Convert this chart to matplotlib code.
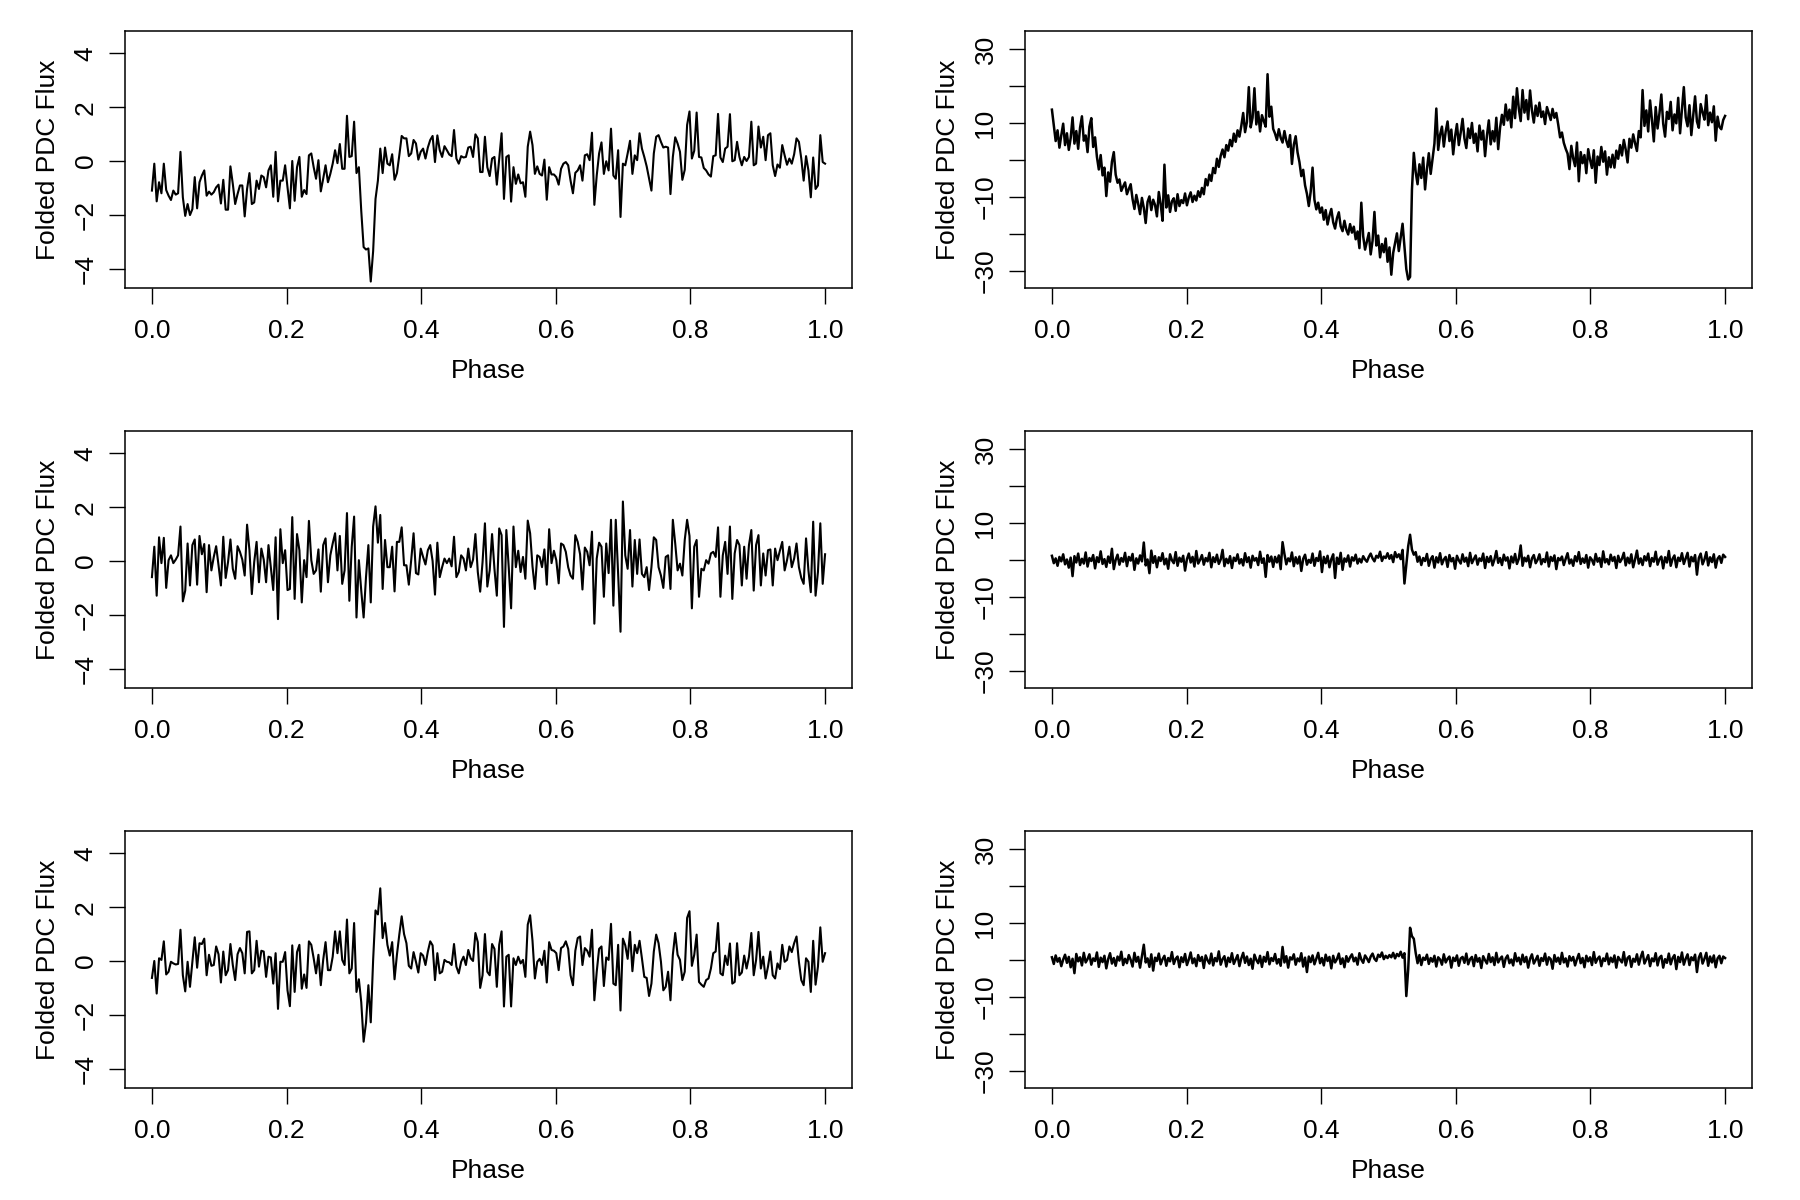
import numpy as np
import matplotlib.pyplot as plt

plt.rcParams['font.family'] = ['Liberation Sans', 'DejaVu Sans']
plt.rcParams['font.size'] = 19

# folded light curves
flux_a = [
    -1.10, -0.10, -1.50, -0.79, -1.20, -0.10, -1.08, -1.29, -1.45, -1.10,
    -1.25, -1.20, 0.34, -1.35, -2.04, -1.60, -2.01, -1.79, -0.60, -1.76,
    -0.79, -0.54, -0.35, -1.29, -1.14, -1.25, -1.16, -0.98, -0.88, -1.58,
    -0.70, -1.81, -1.81, -0.20, -0.85, -1.60, -1.23, -0.91, -0.91, -2.06,
    -1.04, -0.45, -1.60, -1.54, -0.73, -1.04, -0.54, -0.60, -0.98, -0.35,
    -0.16, -1.33, 0.34, -1.50, -0.73, -0.73, -0.16, -0.98, -1.76, 0.00,
    -1.48, -0.23, 0.15, -1.33, -1.08, -1.23, 0.21, 0.28, -0.23, -0.66,
    0.03, -1.13, -0.66, -0.16, -0.79, -0.48, -0.10, 0.40, -0.08, 0.63,
    -0.29, -0.29, 1.68, 0.15, 0.18, 1.46, -0.45, -0.23, -1.85, -3.20,
    -3.29, -3.25, -4.48, -3.35, -1.41, -0.73, 0.46, -0.45, 0.50, -0.10,
    -0.16, 0.25, -0.70, -0.45, 0.21, 0.93, 0.84, 0.84, 0.18, 0.28,
    0.78, 0.65, 0.05, 0.34, 0.46, 0.09, 0.50, 0.78, 0.93, -0.04,
    0.95, 0.40, 0.15, 0.55, 0.40, 0.24, 0.18, 1.15, 0.09, -0.10,
    0.18, 0.13, 0.15, 0.50, 0.53, 0.15, 0.99, 0.84,
    -0.41, -0.41, 0.90, -0.23, -0.56, 0.09, 0.15, -0.88, 0.09, 1.03,
    -1.41, 0.15, 0.21, -1.51, -0.23, -0.85, -0.50, -0.83, -0.79, -1.33,
    0.53, 1.09, 0.59, -0.48, -0.20, -0.48, -0.54, 0.05, -1.44, -0.23,
    -0.50, -0.50, -0.60, -0.88, -0.29, -0.10, -0.04, -0.16, -0.73, -1.20,
    -0.44, -0.35, -0.16, -0.73, 0.21, 0.25, 0.03, 1.05, -1.63, -0.54,
    0.28, 0.69, -0.48, -0.01, -0.35, 1.20, -0.54, -0.66, 0.40, -2.08,
    -0.10, -0.16, 0.28, 0.75, -0.48, 0.21, 0.03, 1.03, 0.46, 0.15,
    -0.20, -0.66, -1.10, 0.28, 0.90, 0.96, 0.71, 0.50, 0.53, 0.50,
    -1.23, 0.15, 0.88, 0.65, 0.34, -0.70, -0.33, 1.34, 1.84, 0.09,
    0.38, 1.80, 0.15, 0.13, -0.26, -0.35, -0.50, -0.58, 0.18, 0.21,
    1.75, 0.13, -0.04, 0.46, 0.53, 1.74, -0.01, 0.03, 0.71, 0.15,
    -0.16, 0.15, 0.00, 0.15, 1.46, -0.16, -0.10, 1.28, 0.50, 0.90,
    0.03, 0.96, 1.03, -0.16, -0.56, -0.13, -0.25, 0.59, 0.21, -0.14,
    0.09, -0.10, 0.25, 0.84, 0.71, 0.09, -0.73, 0.18, -0.35, -1.35,
    0.13, -1.04, -0.91, 0.96, -0.04, -0.10,
]

flux_b = [
    -0.60, 0.53, -1.29, 0.88, -0.08, 0.86, -1.00, 0.03, 0.21, -0.08,
    0.05, 0.21, 1.28, -1.50, -1.10, 0.65, -0.91, 0.59, 0.80, -0.88,
    0.93, 0.25, 0.63, -1.16, 0.59, -0.35, 0.15, 0.55, -0.16, -0.91,
    0.90, -0.63, -0.04, 0.80, -0.29, -0.66, 0.55, 0.34, 0.05, -0.54,
    1.35, 0.40, -1.23, -0.04, 0.71, -0.79, 0.46, 0.05, -0.79, 0.59,
    -0.23, -1.08, 0.88, -2.16, 1.18, -0.08, 0.40, -1.08, -1.04, 1.63,
    -1.41, 1.00, 0.40, -1.54, 0.03, -0.60, 1.49, 0.03, -0.48, -0.35,
    0.43, -1.14, 0.59, 0.84, -0.79, 0.21, 0.65, 1.03, -0.35, 0.93,
    -0.85, -0.35, 1.78, -1.48, 0.53, 1.65, -2.10, 0.03, -1.10, -2.10,
    -0.60, 0.59, -1.54, 1.28, 2.03, 0.68, 1.71, -1.04, 0.78, -0.23,
    -0.23, 0.53, -1.13, 0.71, 0.71, 1.25, -0.16, -0.16, -0.88, 0.03,
    1.03, -0.45, -0.50, 0.46, 0.15, -0.13, 0.40, 0.59, 0.00, -1.25,
    0.68, -0.60, -0.23, 0.09, -0.08, 0.09, -0.20, 0.90, -0.60, -0.41,
    0.21, 0.09, -0.35, 0.46, -0.23, 0.05, 1.00, -0.41,
    -1.14, -0.04, 1.40, -0.95, -0.35, 1.00, -0.29, -1.29, 1.21, 0.96,
    -2.45, 1.15, -0.23, -1.76, 1.28, -0.23, 0.38, -0.41, 0.15, -0.66,
    1.50, 1.03, -0.20, -1.04, 0.21, 0.15, -0.23, 0.43, -0.88, 1.18,
    -0.08, 0.38, 0.03, -0.83, 0.65, 0.59, 0.34, -0.23, -0.54, -0.66,
    0.96, 0.71, 0.25, -1.06, 0.50, 0.34, -0.16, 1.09, -2.33, 0.09,
    0.68, 0.53, -1.33, 0.65, -0.45, 1.53, -1.66, 1.53, -0.48, -2.63,
    2.21, 0.21, -0.29, 1.15, -0.95, 0.78, -0.48, 0.80, -0.48, -0.60,
    -0.23, -1.08, -0.23, 0.88, 0.78, -0.23, -0.54, -1.00, 0.15, 0.21,
    -1.04, 1.53, 0.65, -0.35, -0.10, -0.54, 0.78, 1.53, 0.93, -1.76,
    0.53, 0.78, -1.33, -0.29, -0.35, 0.03, -0.10, 0.28, 0.34, 0.15,
    1.25, -1.33, 0.21, 0.71, -0.48, 1.28, -1.41, 0.28, 0.78, 0.59,
    -0.91, 0.53, -0.66, 0.59, 1.15, -1.10, 0.59, 0.96, -0.91, 0.28,
    -0.54, 0.40, 0.43, -0.91, 0.46, 0.03, 0.38, 0.71, -0.35, 0.03,
    0.53, -0.23, 0.09, 0.65, -0.23, -0.63, -0.85, 0.84, -0.35, -1.16,
    1.46, -1.29, -0.41, 1.40, -0.85, 0.25,
]

flux_c = [
    -0.63, 0.00, -1.21, 0.10, 0.04, 0.73, -0.50, -0.40, -0.03, -0.09,
    -0.13, -0.11, 1.16, -0.53, -1.13, -0.03, -0.96, -0.03, 0.88, -0.25,
    0.66, 0.63, 0.83, -0.53, 0.23, -0.18, -0.15, 0.54, 0.25, -0.80,
    0.35, -0.53, -0.34, 0.63, -0.15, -0.71, 0.25, 0.48, 0.29, -0.46,
    1.08, 1.10, -0.46, -0.34, 0.75, -0.21, 0.38, 0.35, -0.59, 0.16,
    0.13, -0.84, 0.29, -1.78, -0.03, -0.03, 0.33, -1.09, -1.68, 0.58,
    -1.15, 0.33, 0.60, -1.03, -0.50, -1.00, 0.73, 0.60, 0.10, -0.46,
    0.23, -0.90, 0.04, 0.70, -0.34, -0.34, 0.16, 1.10, 0.29, 1.10,
    0.04, -0.15, 1.54, -0.46, -0.28, 1.41, -1.15, -0.68, -1.53, -3.00,
    -2.30, -0.90, -2.28, 0.04, 1.88, 1.73, 2.70, 0.85, 1.41, 0.60,
    0.20, 0.70, -0.68, 0.23, 0.98, 1.66, 1.00, 0.66, -0.18, -0.28,
    0.33, -0.03, -0.43, 0.29, 0.20, -0.15, 0.35, 0.73, 0.58, -0.71,
    0.29, -0.46, -0.40, 0.04, -0.03, -0.05, -0.15, 0.63, -0.21, -0.46,
    -0.03, 0.16, -0.15, 0.41, 0.10, 0.00, 1.04, 0.70,
    -1.00, -0.53, 1.00, -0.40, -0.53, 0.63, 0.45, -0.96, 0.60, 1.10,
    -1.69, 0.16, 0.23, -1.69, 0.10, -0.15, 0.16, -0.09, 0.04, -0.59,
    1.35, 1.70, 0.75, -0.65, -0.03, 0.08, -0.15, 0.38, -0.80, 0.70,
    0.41, 0.38, 0.29, -0.34, 0.48, 0.54, 0.73, 0.45, -0.53, -0.90,
    0.38, 0.85, 0.91, -0.15, 0.48, 0.38, 0.16, 1.16, -1.46, -0.40,
    0.45, 0.54, -0.93, 0.13, 0.04, 1.38, -0.84, -0.90, 0.60, -1.84,
    0.83, 0.58, 0.08, 1.08, -0.38, 0.60, 0.29, 0.75, 0.10, -0.59,
    -0.63, -1.30, -0.84, 0.35, 0.98, 0.66, -0.03, -1.09, -0.96, -0.40,
    -1.46, 0.23, 1.04, 0.23, 0.04, -0.71, -0.40, 1.60, 1.85, -0.18,
    0.23, 0.98, -0.78, -0.88, -0.96, -0.71, -0.65, -0.28, 0.29, 0.35,
    1.41, -0.46, -0.53, 0.20, -0.15, 0.65, -0.84, -0.78, 0.66, -0.53,
    -0.43, 0.20, -0.28, 0.16, 1.04, -0.53, 0.04, 1.08, -0.28, 0.16,
    -0.65, -0.21, 0.35, -0.53, -0.65, -0.09, -0.30, 0.60, -0.03, 0.04,
    0.54, 0.33, 0.66, 0.91, -0.03, -0.71, -0.90, 0.10, -0.03, -1.15,
    0.75, -0.88, -0.21, 1.25, -0.03, 0.29,
]

flux_d = [
    13.7, 9.5, 5.2, 8.1, 3.4, 6.8, 9.9, 4.1, 7.3, 2.8, 6.0, 11.6, 4.5, 7.9, 3.1, 8.8, 11.9, 5.3, 6.7, 2.2, 9.1, 11.4,
    3.6, 6.2, 0.9, -2.5, 1.4, -4.1, -2.0, -9.7, -3.3, -5.8, -0.4, 2.2, -3.9, -6.1,
    -5.2, -8.3, -7.1, -6.0, -9.2, -7.8, -6.5,
    -10.5, -13.2, -9.4, -11.8, -14.6, -10.2, -12.9, -17.0, -11.3, -9.8, -13.5, -10.7, -12.1, -15.2, -8.6, -11.9,
    -16.4, -1.2, -12.8, -9.5, -14.0, -11.1, -10.3, -13.7, -9.2, -12.4, -10.8, -11.6, -9.0, -12.2, -10.1, -8.7,
    -11.3, -9.6, -10.9, -8.4, -9.9,
    -7.5, -9.2, -5.1, -6.8, -3.9, -5.6, -2.1, -3.5, 0.4, -1.8, 1.2, 2.9, 0.8, 4.1, 2.6, 5.5, 3.8, 7.2, 5.0, 8.1, 6.4,
    9.3, 12.8, 7.6, 10.4, 19.8, 8.9, 11.5, 19.5, 9.7, 13.1, 7.8, 12.2, 10.6, 9.1, 23.3, 11.8, 14.5, 8.5,
    7.2, 5.5, 8.4, 6.1, 4.8, 7.9, 5.3, 3.6, 6.8, -1.0, 4.2, 6.5, 2.1,
    -0.5, -4.3, -2.6, -6.8, -9.1, -12.4, -8.5, -2.0, -10.7, -13.3, -11.5,
    -14.2, -12.8, -16.1, -13.5, -17.4, -15.0, -13.2, -16.8, -18.5, -15.7, -14.1, -17.9, -19.2, -16.4, -18.8,
    -20.1, -17.3, -19.6, -18.0,
    -21.4, -19.3, -23.8, -11.5, -20.6, -24.2, -22.0, -19.7, -25.5, -21.8, -14.0, -23.1, -20.4, -26.3, -22.7,
    -24.9, -21.2, -27.5, -23.6, -31.0, -25.1, -22.4, -19.8, -24.6, -21.0, -17.2, -23.3,
    -29.5, -32.3, -31.6, -8.0, 2.0,
    -3.2, -6.5, -1.1, -4.8, 0.7, -7.9, -2.4, 1.9, -3.7, 0.3,
    4.5, 14.0, 2.8, 6.9, 9.1, 3.7, 7.8, 10.5, 5.2, 8.3, 1.6, 6.4, 9.8, 4.1, 7.5, 11.2, 5.9, 3.3, 8.6, 6.0,
    10.1, 4.7, 7.2, 2.4, 9.4, 5.6, 8.0, 1.1, 6.7, 10.8, 4.3, 7.9, 5.1, 11.5, 3.0, 8.8,
    12.3, 9.6, 15.1, 10.8, 13.7, 8.9, 17.2, 11.4, 19.5, 14.0, 10.6, 19.0, 12.9, 16.3, 11.1, 18.9, 13.5, 10.2,
    14.8, 12.0, 15.6, 11.7, 13.2, 9.8, 14.4, 12.6, 10.9, 13.9, 11.5, 12.8,
    9.7, 6.2, 7.5, 4.7, 3.1,
    1.8, -2.4, 3.9, 0.5, -1.6, 4.8, -5.7, 2.2, -0.8, 1.4, -3.5, 3.0, 0.1, -2.1, 2.7, -6.1, 1.0, -1.3, 3.6, -0.4,
    2.4, -3.9, 0.8, -1.9, 1.5,
    -2.0, 2.6, 0.4, 4.1, 1.3, 5.5, 2.9, -0.6, 5.8, 3.4, 7.0, 4.6, 2.5, 7.9, 6.2,
    19.0, 9.3, 13.5, 7.8, 16.2, 10.9, 5.1, 14.4, 8.6, 12.7, 17.8, 9.9, 6.4, 13.1, 11.2, 15.8, 8.1, 12.4, 10.0,
    16.9, 7.3, 13.8, 19.8, 11.6, 9.2, 14.9, 6.8, 12.1, 17.3, 10.5, 8.8, 15.2, 13.0, 11.0, 17.6, 9.5, 12.9, 10.3,
    14.6, 5.3, 11.8, 9.0, 8.4, 10.9, 12.0,
]

flux_e = [
    1.2, -0.8, 0.5, -1.5, 0.9, -0.3, 1.6, -1.1, 0.2, -2.0, 0.7, -4.3, 1.1, -0.6, 1.8, -1.3, 0.4, -0.9, 2.1, -1.7,
    0.6, -0.2, 1.4, -2.2, 0.8, -0.5, 2.4, -1.0, 0.3, -1.8, 1.0, -0.7, 3.1, -2.4, 0.1, 1.5, -1.2, 0.6, -0.4, 2.0,
    -1.6, 0.9, -0.1, 1.7, -2.6, 0.5, -0.9, 1.3, -0.3, 4.8, -1.4, 0.2, -3.5, 2.6, -0.7, 1.1, -1.9, 0.8, -0.2, 1.9,
    -1.1, 0.4, -2.3, 1.6, 0.0, -0.8, 2.2, -1.5, 0.7, -0.4, 1.2, -2.8, 0.3, 1.8, -0.6, 0.9, -1.7, 2.5, -0.9, 0.1,
    1.4, -1.2, 0.6, -0.3, 2.0, -1.9, 0.8, -0.5, 1.5, -1.0, 0.2, 2.8, -1.6, 0.4, -0.8, 1.1, -2.1, 0.7, -0.2, 1.6,
    -0.9, 0.3, -1.4, 1.9, -0.5, 0.8, -2.0, 1.2, -0.1, 0.6, -1.3, 2.3, -0.7, 0.5, -4.5, 1.4, -0.4, 1.0, -1.8, 0.9,
    -0.6, 1.3, -2.4, 4.9, 1.7, -1.1, 0.5, -0.3, 2.1, -1.6, 0.8, -0.9, 1.0, -2.9, 0.4, 1.5, -1.2, 0.1, -0.7, 1.8,
    -1.5, 0.6, -0.2, 2.4, -3.2, 0.9, -0.8, 1.2, -1.9, 0.3, 1.6, -4.8, 0.7, -1.0, 2.0, -2.6, 0.5, -0.4, 1.3, -1.7,
    0.8, -0.1, 1.5, -0.9, 0.4, -0.6, 1.1, 0.2, -0.4, 0.9, 1.8, 0.5, -0.3, 1.2, 0.7, 2.3, -0.2, 1.0, 0.6, 1.9,
    0.4, 1.4, -0.5, 2.2, 0.8, 1.6, 0.3, 2.8, -6.3, -1.2, 3.8, 6.9, 2.9, 1.5, 2.2, -0.4, 1.0, -1.3, 0.6, -0.2,
    1.7, -1.5, 0.3, 1.1, -2.0, 0.8, -0.6, 1.9, -1.1, 0.2, 0.9, -1.8, 1.4, -0.3, 0.6, -2.3, 1.2, 0.0, -0.9, 1.6,
    -0.4, 0.7, -1.6, 2.0, -0.8, 0.3, 1.3, -1.2, 0.5, -0.2, 1.8, -2.1, 0.9, -0.5, 1.1, -1.4, 0.2, 2.5, -0.7, 0.6,
    -1.3, 1.5, -0.1, 0.8, -2.2, 1.0, -0.6, 1.7, -1.0, 0.4, 4.0, -1.5, 0.7, -0.3, 1.2, -1.9, 0.5, 1.4, -0.8, 0.1,
    1.6, -1.1, 0.3, -0.5, 2.1, -1.7, 0.9, -0.2, 1.3, -2.4, 0.6, 0.0, 1.0, -1.3, 0.4, 1.9, -0.9, 0.2, -1.5, 1.1,
    -0.3, 2.2, -1.0, 0.5, -0.7, 1.4, -2.0, 0.8, 0.1, -1.2, 1.7, -0.4, 0.6, -1.8, 2.4, -0.6, 0.3, -1.1, 1.5, -0.2,
    0.9, -2.1, 1.2, -0.5, 0.4, 2.0, -1.4, 0.7, -0.8, 1.6, -1.9, 0.2, 2.6, -0.9, 0.5, -1.3, 1.1, -0.1, 1.8, -1.6,
    0.6, -0.4, 2.3, -1.2, 0.3, 1.0, -2.2, 0.8, -0.6, 2.5, -1.5, 0.4, 1.3, -1.9, 0.7, -0.2, 1.9, -1.0, 0.5, 2.0,
    -1.7, 0.9, -0.3, 1.4, -3.9, 0.6, 1.8, -1.1, 0.2, 2.2, -1.4, 0.8, -0.5, 1.6, -2.0, 0.4, 1.1, -0.7, 1.5, 0.9,
]

flux_f = [
    0.8, -1.0, 1.3, -0.4, 0.6, -1.6, 0.2, 1.5, -0.7, 0.9, -1.9, 0.4, -3.5, 1.7, -0.3, 0.8, -1.4, 2.0, -0.6, 0.3,
    1.6, -1.2, 0.5, -0.2, 2.1, -1.8, 0.7, -0.5, 1.2, -2.2, 0.3, 1.9, -0.9, 0.6, -1.5, 1.0, -0.1, 2.3, -1.3, 0.4,
    -0.8, 1.4, 0.1, -1.7, 2.0, -0.4, 0.9, -2.0, 1.1, 4.2, -0.6, 0.5, -1.8, 1.6, -2.8, 0.7, -0.2, 1.8, -1.1, 0.3,
    1.2, -1.5, 0.6, -0.3, 2.2, -1.0, 0.4, 1.0, -1.9, 0.8, -0.5, 1.7, -1.3, 0.2, 2.1, -0.8, 0.5, -1.6, 1.4, -0.2,
    0.9, -2.1, 1.3, 0.0, -0.9, 1.8, -1.4, 0.6, -0.3, 2.4, -1.2, 0.3, 1.1, -1.7, 0.7, -0.5, 1.9, -1.0, 0.2, 1.4,
    -1.6, 0.5, 2.0, -0.7, 1.0, -1.3, 0.4, -2.3, 1.5, 0.1, -0.8, 1.2, -1.8, 0.9, -0.4, 2.2, -1.1, 0.6, -0.2, 1.7,
    -0.9, 0.3, -1.5, 3.6, -0.6, 1.1, -2.0, 0.8, 0.2, 1.6, -1.2, 0.5, -0.3, 1.9, -1.7, 0.7, -3.2, 1.0, -0.5, 1.3,
    -1.1, 0.4, 2.0, -0.8, 0.6, -1.4, 1.5, -0.2, 0.9, -2.2, 1.2, -0.6, 0.3, 1.8, -1.0, 0.5, -1.9, 1.1, -0.4, 0.8,
    1.6, -0.3, 0.7, -1.2, 1.9, 0.2, -0.7, 1.3, 0.5, -0.5, 1.0, 1.8, 0.4, -0.2, 1.5, 0.9, 2.1, 0.3, 1.2, 0.6,
    1.4, 0.8, 2.0, 0.5, 1.7, 1.1, 2.3, 0.7, 1.9, -9.7, -2.5, 8.8, 6.5, 5.8, 2.0, -0.8, 1.4, -1.3, 0.7, 0.1,
    1.5, -1.0, 0.6, -0.4, 1.2, -1.7, 0.8, 0.2, -1.2, 1.6, -0.6, 0.4, 1.0, -2.0, 0.7, -0.2, 1.3, -1.5, 0.5, 0.9,
    -0.7, 1.8, -1.1, 0.3, 0.9, -1.6, 1.4, -0.4, 0.6, -2.1, 1.1, 0.0, -0.9, 1.7, -0.5, 0.8, -1.3, 2.0, -0.6, 0.4,
    1.0, -1.8, 0.5, 1.3, -0.8, 0.2, -1.4, 1.9, -0.3, 0.7, -1.1, 1.5, -0.5, 0.9, -2.0, 0.4, 1.6, -0.9, 0.1, 1.2,
    -1.5, 0.6, -0.2, 1.8, -1.2, 0.8, 0.3, -2.3, 1.4, -0.4, 0.7, -1.0, 2.0, -0.6, 0.5, -1.7, 1.1, -0.1, 0.9, -1.4,
    0.3, 1.7, -0.8, 0.6, -1.9, 1.2, -0.3, 0.8, -1.3, 2.2, -0.7, 0.4, 1.0, -1.6, 0.5, -0.2, 1.8, -1.1, 0.7, -0.5,
    1.3, -2.0, 0.9, 0.1, -0.6, 2.2, -1.4, 0.6, 1.1, -1.8, 0.4, -0.4, 1.6, -1.2, 0.8, 2.3, -0.9, 0.2, 1.4, -1.6,
    0.5, -0.3, 1.9, -1.4, 0.7, 1.2, -2.0, 0.3, -0.7, 1.8, -1.1, 0.6, 1.4, -2.4, 0.9, -0.5, 2.1, -1.2, 0.4, 1.6,
    -1.3, 0.8, 0.0, 1.5, -3.2, 0.7, 1.9, -0.9, 0.4, 2.0, -1.5, 1.0, -0.6, 1.3, -1.9, 0.5, 1.2, -0.8, 1.0, 0.6,
]

phase_ticks = [0.0, 0.2, 0.4, 0.6, 0.8, 1.0]
small_ticks = [-4, -2, 0, 2, 4]
big_ticks = [-30, -20, -10, 0, 10, 20, 30]
big_labels = ['\u221230', '', '\u221210', '', '10', '', '30']

W, H = 1800, 1200
col_x = [125, 1025]
row_y = [31, 431, 831]
box_w, box_h = 727, 257

fig = plt.figure(figsize=(18, 12), dpi=100)

panels = [
    (0, 0, flux_a), (0, 1, flux_d),
    (1, 0, flux_b), (1, 1, flux_e),
    (2, 0, flux_c), (2, 1, flux_f),
]

for r, c, flux in panels:
    ax = fig.add_axes([col_x[c] / W, 1 - (row_y[r] + box_h) / H, box_w / W, box_h / H])
    phase = np.linspace(0, 1, len(flux))
    ax.plot(phase, flux, color='black', lw=1.5 if c == 0 else 1.8)
    ax.set_xlim(-0.04, 1.04)
    ax.set_xticks(phase_ticks)
    ax.set_xticklabels([f'{t:.1f}' for t in phase_ticks])
    if c == 0:
        ax.set_ylim(-4.72, 4.83)
        ax.set_yticks(small_ticks)
        ax.set_yticklabels([str(t).replace('-', '\u2212') for t in small_ticks])
    else:
        ax.set_ylim(-34.6, 35.0)
        ax.set_yticks(big_ticks)
        ax.set_yticklabels(big_labels)
    for lab in ax.get_yticklabels():
        lab.set_rotation(90)
        lab.set_va('center')
        lab.set_ha('right')
    ax.tick_params(axis='both', direction='out', length=11.3, width=1.0, color='black')
    ax.tick_params(axis='x', pad=11.2)
    ax.tick_params(axis='y', pad=8.5)
    for sp in ax.spines.values():
        sp.set_linewidth(1.1)
    ax.set_xlabel('Phase', labelpad=11.5)
    ax.set_ylabel('Folded PDC Flux', labelpad=9.5)

fig.savefig('out.png', dpi=100)
